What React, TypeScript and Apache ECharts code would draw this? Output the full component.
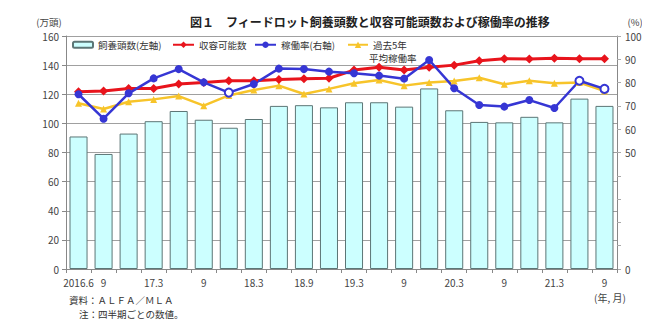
import React, { useEffect, useRef } from "react";
import * as echarts from "echarts";

const quarters = ["2016.6","2016.9","2016.12","2017.3","2017.6","2017.9","2017.12","2018.3","2018.6","2018.9","2018.12","2019.3","2019.6","2019.9","2019.12","2020.3","2020.6","2020.9","2020.12","2021.3","2021.6","2021.9"];
const tickLabels = ["2016.6","9","","17.3","","9","","18.3","","18.9","","19.3","","9","","20.3","","9","","21.3","","9"];
const feedlotHead = [91, 79, 93, 101.5, 108.5, 102.5, 97, 103, 112, 112.5, 111, 114.5, 114.5, 111.5, 124, 109, 101, 100.7, 104.5, 100.7, 117, 112];
const capacity = [121.8, 122.2, 124, 124, 127, 128, 129.3, 129.3, 130.2, 130.7, 131, 136.6, 138.5, 136.6, 138.5, 140, 143, 144.4, 144.2, 144.7, 144.4, 144.4];
const utilization = [75.0, 64.5, 75.4, 81.8, 85.8, 80.1, 75.7, 79.4, 86.0, 85.8, 84.7, 84.0, 83.0, 81.7, 89.7, 77.6, 70.4, 69.7, 72.5, 69.1, 80.8, 77.3];
const hollowPoints = [6, 20, 21];
const avg5yr = [71.1, 68.7, 71.8, 72.8, 74.2, 70.1, 74.5, 76.8, 78.7, 75.1, 77.3, 79.7, 81.1, 78.7, 80.0, 80.7, 82.1, 79.3, 80.8, 79.7, 80.0, 76.4];
const leftTicks = { min: 0, max: 160, interval: 20 };
const rightTicks = { min: 0, max: 100, interval: 10 };
const rightShown = [0, 50, 60, 70, 80, 90, 100];

const FONT = "'Noto Sans CJK JP', 'Noto Sans', sans-serif";
const BLUE = "#3636d4";
const RED = "#e8141c";
const YELLOW = "#f7c42a";

export default function App() {
  const ref = useRef<HTMLDivElement>(null);
  useEffect(() => {
    if (!ref.current) return;
    const chart = echarts.init(ref.current, null, { renderer: "svg" });
    const legendText = { fontSize: 9.5, color: "#333", fontFamily: FONT };
    chart.setOption({
      animation: false,
      textStyle: { fontFamily: FONT },
      title: {
        text: "図１　フィードロット飼養頭数と収容可能頭数および稼働率の推移",
        left: 185,
        top: 10,
        textStyle: { fontSize: 12, fontWeight: "bold", color: "#222", fontFamily: FONT },
      },
      grid: { left: 66, right: 33, top: 36, bottom: 67 },
      legend: [
        { data: ["飼養頭数(左軸)"], left: 67, top: 35, itemWidth: 20, itemHeight: 6, textStyle: legendText },
        { data: ["収容可能数"], left: 167, top: 35, itemWidth: 21, itemHeight: 8, textStyle: legendText },
        { data: ["稼働率(右軸)"], left: 249, top: 35, itemWidth: 21, itemHeight: 8, textStyle: legendText },
        {
          data: ["過去5年平均稼働率"], left: 342, top: 35, itemWidth: 20, itemHeight: 8,
          formatter: () => "過去5年", textStyle: legendText,
        },
      ],
      graphic: [
        { type: "text", x: 369, y: 58, style: { text: "平均稼働率", fontSize: 9.5, lineHeight: 11, fill: "#333", fontFamily: FONT, verticalAlign: "middle" } },
        { type: "text", x: 49, y: 22, style: { text: "(万頭)", fontSize: 9.5, fill: "#444", fontFamily: FONT, align: "center", verticalAlign: "middle" } },
        { type: "text", x: 635, y: 22, style: { text: "(%)", fontSize: 9.5, fill: "#444", fontFamily: FONT, align: "center", verticalAlign: "middle" } },
        { type: "text", x: 610, y: 297, style: { text: "(年, 月)", fontSize: 10, fill: "#444", fontFamily: FONT, align: "center", verticalAlign: "middle" } },
        { type: "text", x: 69, y: 300, style: { text: "資料：ＡＬＦＡ／ＭＬＡ", fontSize: 9.5, fill: "#333", fontFamily: FONT, verticalAlign: "middle" } },
        { type: "text", x: 79, y: 314, style: { text: "注：四半期ごとの数値。", fontSize: 9.5, fill: "#333", fontFamily: FONT, verticalAlign: "middle" } },
      ],
      xAxis: {
        type: "category",
        data: quarters,
        boundaryGap: true,
        axisLine: { lineStyle: { color: "#888", width: 1 } },
        axisTick: { show: true, interval: 0, length: 4, lineStyle: { color: "#888" } },
        axisLabel: {
          interval: 0,
          margin: 8,
          fontSize: 10,
          color: "#444",
          formatter: (_v: string, i: number) => tickLabels[i],
        },
      },
      yAxis: [
        {
          type: "value",
          ...leftTicks,
          axisLine: { show: true, lineStyle: { color: "#888" } },
          axisTick: { show: true, length: 4, lineStyle: { color: "#888" } },
          axisLabel: { fontSize: 10, color: "#444", margin: 7 },
          splitLine: { show: true, lineStyle: { color: "#a0a0a0", width: 1 } },
        },
        {
          type: "value",
          ...rightTicks,
          position: "right",
          axisLine: { show: true, lineStyle: { color: "#888" } },
          axisTick: { show: true, length: 4, lineStyle: { color: "#aaa" } },
          axisLabel: {
            fontSize: 10,
            color: "#444",
            margin: 8,
            formatter: (v: number) => (rightShown.includes(v) ? String(v) : ""),
          },
          splitLine: { show: false },
        },
      ],
      series: [
        {
          name: "飼養頭数(左軸)",
          type: "bar",
          yAxisIndex: 0,
          data: feedlotHead,
          barCategoryGap: "28%",
          itemStyle: { color: "#ccffff", borderColor: "#5c7676", borderWidth: 1 },
        },
        {
          name: "過去5年平均稼働率",
          type: "line",
          yAxisIndex: 1,
          data: avg5yr,
          symbol: "triangle",
          symbolSize: 7,
          lineStyle: { color: YELLOW, width: 2.5 },
          itemStyle: { color: YELLOW },
        },
        {
          name: "収容可能数",
          type: "line",
          yAxisIndex: 0,
          data: capacity,
          symbol: "diamond",
          symbolSize: 9,
          lineStyle: { color: RED, width: 3 },
          itemStyle: { color: RED },
        },
        {
          name: "稼働率(右軸)",
          type: "line",
          yAxisIndex: 1,
          data: utilization.map((v, i) =>
            hollowPoints.includes(i)
              ? { value: v, itemStyle: { color: "#fff", borderColor: BLUE, borderWidth: 2 } }
              : v
          ),
          symbol: "circle",
          symbolSize: 8,
          lineStyle: { color: BLUE, width: 2.5 },
          itemStyle: { color: BLUE },
        },
      ],
    });
    return () => chart.dispose();
  }, []);
  return <div ref={ref} style={{ width: 650, height: 336, margin: -8 }} />;
}
